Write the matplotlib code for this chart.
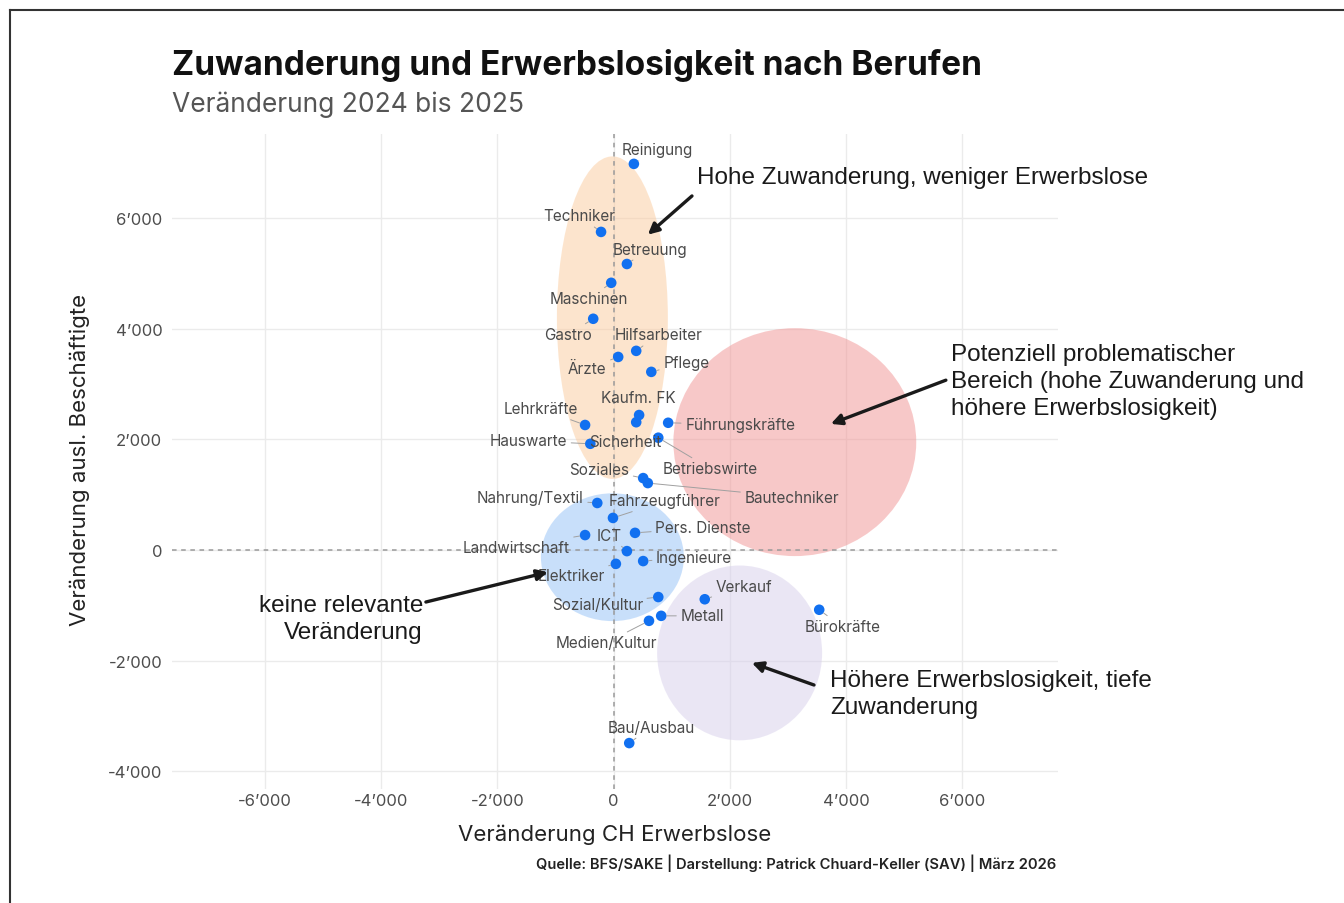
import matplotlib
matplotlib.use("Agg")
import matplotlib.pyplot as plt
from matplotlib.patches import Ellipse
from matplotlib.lines import Line2D
from matplotlib.ticker import FuncFormatter

# Daten: Veränderung 2024 -> 2025
berufe = ["Reinigung", "Techniker", "Betreuung", "Maschinen", "Gastro",
          "Hilfsarbeiter", "Ärzte", "Pflege", "Kaufm. FK", "Sicherheit",
          "Führungskräfte", "Lehrkräfte", "Hauswarte", "Betriebswirte", "Soziales",
          "Bautechniker", "Nahrung/Textil", "Fahrzeugführer", "ICT", "Pers. Dienste",
          "Landwirtschaft", "Ingenieure", "Elektriker", "Sozial/Kultur", "Verkauf",
          "Metall", "Medien/Kultur", "Bürokräfte", "Bau/Ausbau"]
erwerbslose_ch = [350, -215, 230, -40, -350,
                  390, 80, 650, 440, 390,
                  940, -490, -400, 770, 510,
                  590, -280, -10, 230, 370,
                  -490, 510, 40, 770, 1570,
                  820, 610, 3540, 270]
beschaeftigte_ausl = [6980, 5750, 5170, 4830, 4180,
                      3600, 3490, 3220, 2440, 2310,
                      2300, 2260, 1920, 2030, 1300,
                      1210, 850, 580, -20, 310,
                      270, -200, -250, -850, -890,
                      -1190, -1280, -1080, -3490]

x_ticks = [-6000, -4000, -2000, 0, 2000, 4000, 6000]
y_ticks = [-4000, -2000, 0, 2000, 4000, 6000]

# label offsets in pixels (dx, dy) relative to each point
label_offsets = [(23, 14), (-22, 16), (23, 15), (-22, -16), (-25, -16),
                 (22, 16), (-31, -12), (35, 9), (-1, 18), (-11, -19),
                 (72, -2), (-44, 16), (-62, 3), (52, -31), (-44, 9),
                 (144, -14), (-67, 5), (52, 17), (-18, 16), (68, 5),
                 (-69, -12), (51, 4), (-45, -12), (-61, -7), (39, 13),
                 (41, 0), (-43, -22), (23, -17), (22, 16)]

W, H = 1344, 904
fig = plt.figure(figsize=(W / 100, H / 100), dpi=100)
ax = fig.add_axes([172 / W, 1 - 790 / H, 886 / W, 655 / H])

main_font = "Inter"
txt_grey = "#4d4d4d"

# zones
zones = [((-20, 4200), 1910, 5830, "#fbcb9d"),
         ((3120, 1950), 4180, 4120, "#f19393"),
         ((-20, -130), 2460, 2310, "#93c1f7"),
         ((2170, -1860), 2840, 3160, "#d7cfeb")]
for c, w, h, col in zones:
    ax.add_patch(Ellipse(c, w, h, facecolor=col, edgecolor="none", alpha=0.5, zorder=1))

ax.axhline(0, color="#9a9a9a", lw=1.1, ls=(0, (3, 3)), zorder=2)
ax.axvline(0, color="#9a9a9a", lw=1.1, ls=(0, (3, 3)), zorder=2)

ax.scatter(erwerbslose_ch, beschaeftigte_ausl, s=58, color="#1170f0",
           edgecolors="none", zorder=4)

for name, x, y, (dx, dy) in zip(berufe, erwerbslose_ch, beschaeftigte_ausl, label_offsets):
    far = (dx * dx + dy * dy) ** 0.5 > 24
    ax.annotate(name, (x, y), xytext=(dx, dy), textcoords="offset pixels",
                ha="center", va="center", fontsize=11, color="#4a4a4a",
                family=main_font, zorder=5,
                arrowprops=dict(arrowstyle="-", color="#a0a0a0", lw=0.7,
                                shrinkA=1, shrinkB=4) if far else None)

ax.set_xlim(-7600, 7650)
ax.set_ylim(-4320, 7520)
ax.set_xticks(x_ticks)
ax.set_yticks(y_ticks)
fmt = FuncFormatter(lambda v, p: f"{int(v):,}".replace(",", "’"))
ax.xaxis.set_major_formatter(fmt)
ax.yaxis.set_major_formatter(fmt)
ax.grid(True, color="#ebebeb", lw=1)
ax.set_axisbelow(True)
for s in ax.spines.values():
    s.set_visible(False)
ax.tick_params(length=0, labelsize=12, labelcolor=txt_grey)
ax.tick_params(axis="x", pad=3)
ax.tick_params(axis="y", pad=7)
for lab in ax.get_xticklabels() + ax.get_yticklabels():
    lab.set_family(main_font)

# annotations
ann_font = ["Liberation Sans", "DejaVu Sans"]
ann_size = 17.5
arrow = dict(arrowstyle="-|>", color="#1a1a1a", lw=2.4, mutation_scale=16,
             shrinkA=0, shrinkB=0)
ax.annotate("", xy=(590, 5700), xytext=(1350, 6400), arrowprops=arrow, zorder=6)
ax.annotate("", xy=(3740, 2280), xytext=(5720, 3070), arrowprops=arrow, zorder=6)
ax.annotate("", xy=(-1130, -400), xytext=(-3230, -940), arrowprops=arrow, zorder=6)
ax.annotate("", xy=(2380, -2040), xytext=(3450, -2440), arrowprops=arrow, zorder=6)

ax.text(1440, 6750, "Hohe Zuwanderung, weniger Erwerbslose", ha="left", va="center",
        fontsize=ann_size, family=ann_font, color="#1a1a1a", clip_on=False, zorder=6)
ax.text(5810, 3060, "Potenziell problematischer\nBereich (hohe Zuwanderung und\nhöhere Erwerbslosigkeit)",
        ha="left", va="center", fontsize=ann_size, family=ann_font, color="#1a1a1a",
        linespacing=1.3, clip_on=False, zorder=6)
ax.text(-3280, -1230, "keine relevante\nVeränderung", ha="right", va="center",
        multialignment="right", fontsize=ann_size, family=ann_font, color="#1a1a1a",
        linespacing=1.3, zorder=6)
ax.text(3730, -2590, "Höhere Erwerbslosigkeit, tiefe\nZuwanderung", ha="left", va="center",
        fontsize=ann_size, family=ann_font, color="#1a1a1a", linespacing=1.3,
        clip_on=False, zorder=6)

# titles
fig.text(172 / W, 1 - 66 / H, "Zuwanderung und Erwerbslosigkeit nach Berufen",
         ha="left", va="center", fontsize=24, fontweight="bold", family=main_font,
         color="#111111")
fig.text(172 / W, 1 - 105 / H, "Veränderung 2024 bis 2025", ha="left", va="center",
         fontsize=19, family=main_font, color="#555555")
fig.text(615 / W, 1 - 835 / H, "Veränderung CH Erwerbslose", ha="center", va="center",
         fontsize=16, family=main_font, color="#222222")
fig.text(80 / W, 1 - 460 / H, "Veränderung ausl. Beschäftigte", ha="center", va="center",
         rotation=90, fontsize=16, family=main_font, color="#222222")
fig.text(1056 / W, 1 - 863 / H,
         "Quelle: BFS/SAKE | Darstellung: Patrick Chuard-Keller (SAV) | März 2026",
         ha="right", va="center", fontsize=10.6, fontweight="semibold",
         family=main_font, color="#222222")

# frame of the screenshot
fig.add_artist(Line2D([10 / W, 10 / W], [0, 1 - 11 / H], color="#333333", lw=1.5))
fig.add_artist(Line2D([10 / W, 1], [1 - 11 / H, 1 - 11 / H], color="#333333", lw=1.5))

fig.savefig("out.png", dpi=100)
